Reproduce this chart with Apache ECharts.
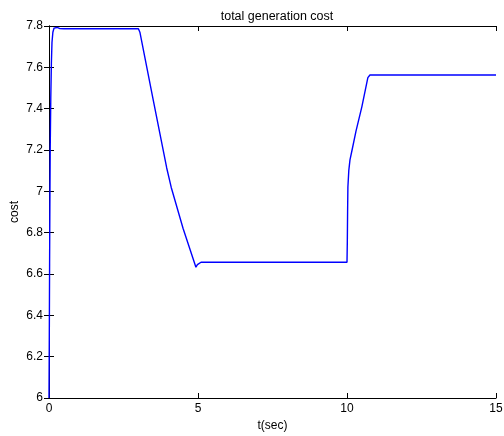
<!DOCTYPE html>
<html>
<head>
<meta charset="utf-8">
<script src="https://cdn.jsdelivr.net/npm/echarts@6/dist/echarts.min.js"></script>
<style>
html,body{margin:0;padding:0;background:#fff;}
#chart{width:504px;height:436px;}
</style>
</head>
<body>
<div id="chart"></div>
<script>
var titleText = 'total generation cost';
var xLabel = 't(sec)';
var yLabel = 'cost';
var xTicks = [0, 5, 10, 15];
var yTicks = [6, 6.2, 6.4, 6.6, 6.8, 7, 7.2, 7.4, 7.6, 7.8];

var tData = [0, 0.01, 0.02, 0.03, 0.04, 0.06, 0.08, 0.1, 0.13, 0.17, 0.22, 0.27, 0.35, 0.5,
  3.0, 3.05, 3.5, 3.95, 4.1, 4.5, 4.93, 4.98, 5.03, 5.1,
  10.0, 10.01, 10.02, 10.03, 10.06, 10.1, 10.17, 10.3, 10.5, 10.7, 10.77, 10.85, 15];
var costData = [6.0, 6.3, 6.65, 6.95, 7.2, 7.45, 7.62, 7.72, 7.77, 7.79, 7.797, 7.793, 7.788, 7.787,
  7.787, 7.77, 7.44, 7.113, 7.02, 6.82, 6.633, 6.645, 6.653, 6.657,
  6.657, 6.75, 6.9, 7.02, 7.1, 7.152, 7.2, 7.29, 7.41, 7.55, 7.563, 7.563, 7.563];

var pairs = tData.map(function (t, i) { return [t, costData[i]]; });

var chart = echarts.init(document.getElementById('chart'), null, {renderer: 'canvas'});
var font = 'Liberation Sans, Arial, Helvetica, sans-serif';
var axisLineStyle = {color: '#000', width: 1};
var fmtY = function (v) { return String(parseFloat(v.toFixed(1))); };

chart.setOption({
  animation: false,
  backgroundColor: '#fff',
  title: {
    text: titleText, left: 272, top: 5, textAlign: 'center',
    textStyle: {fontFamily: font, fontSize: 12.5, fontWeight: 'normal', color: '#000'}
  },
  grid: {left: 49, right: 8, top: 26, bottom: 38, containLabel: false, outerBoundsMode: 'none'},
  xAxis: [{
    type: 'value', min: xTicks[0], max: xTicks[xTicks.length - 1], interval: 5,
    position: 'bottom',
    name: xLabel, nameLocation: 'middle', nameGap: 22, nameMoveOverlap: false,
    nameTextStyle: {fontFamily: font, fontSize: 12, color: '#000'},
    axisLine: {lineStyle: axisLineStyle},
    axisTick: {inside: true, length: 5, lineStyle: axisLineStyle},
    axisLabel: {fontFamily: font, fontSize: 12, color: '#000', margin: 5},
    splitLine: {show: false}
  }, {
    type: 'value', min: xTicks[0], max: xTicks[xTicks.length - 1], interval: 5,
    position: 'top',
    axisLine: {lineStyle: axisLineStyle},
    axisTick: {inside: true, length: 5, lineStyle: axisLineStyle},
    axisLabel: {show: false},
    splitLine: {show: false}
  }],
  yAxis: [{
    type: 'value', min: yTicks[0], max: yTicks[yTicks.length - 1], interval: 0.2,
    position: 'left',
    name: yLabel, nameLocation: 'middle', nameGap: 28, nameRotate: 90, nameMoveOverlap: false,
    nameTextStyle: {fontFamily: font, fontSize: 12, color: '#000'},
    axisLine: {lineStyle: axisLineStyle},
    axisTick: {inside: true, length: 5, lineStyle: axisLineStyle},
    axisLabel: {fontFamily: font, fontSize: 12, color: '#000', margin: 6, formatter: fmtY},
    splitLine: {show: false}
  }, {
    type: 'value', min: yTicks[0], max: yTicks[yTicks.length - 1], interval: 0.2,
    position: 'right',
    axisLine: {lineStyle: axisLineStyle},
    axisTick: {inside: true, length: 5, lineStyle: axisLineStyle},
    axisLabel: {show: false},
    splitLine: {show: false}
  }],
  series: [{
    type: 'line', xAxisIndex: 0, yAxisIndex: 0,
    data: pairs, showSymbol: false, smooth: false,
    lineStyle: {color: '#0000ff', width: 1.4},
    itemStyle: {color: '#0000ff'}
  }]
});
</script>
</body>
</html>
